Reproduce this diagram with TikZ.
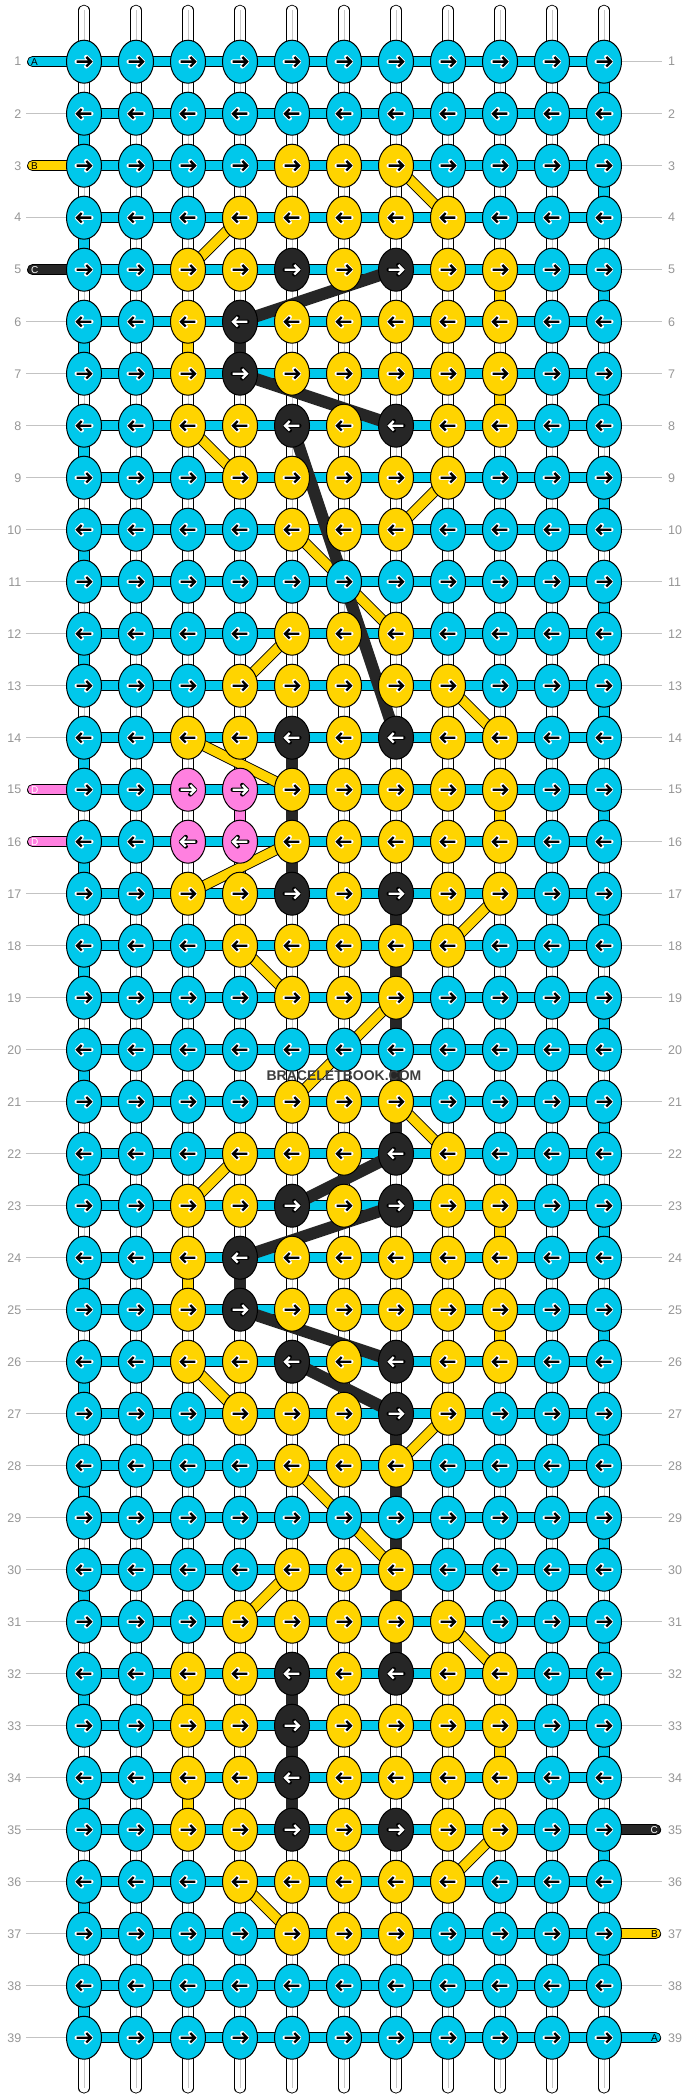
\documentclass[tikz,border=0pt]{standalone}
\usepackage{fontspec}
\setmainfont{Liberation Sans}
\usetikzlibrary{shapes.geometric}
\definecolor{colC}{RGB}{0,200,235}
\definecolor{colY}{RGB}{255,212,0}
\definecolor{colK}{RGB}{38,38,38}
\definecolor{colP}{RGB}{255,128,224}
\definecolor{lblgray}{RGB}{150,150,150}
\definecolor{linegray}{RGB}{195,195,195}
\definecolor{wmgray}{RGB}{62,62,62}
\colorlet{fgC}{black}\colorlet{fgY}{black}\colorlet{fgK}{white}\colorlet{fgP}{white}
\colorlet{bgC}{white}\colorlet{bgY}{white}\colorlet{bgK}{black}\colorlet{bgP}{black}
\pgfdeclarelayer{bg}
\pgfdeclarelayer{mid}
\pgfsetlayers{bg,mid,main}
\begin{document}
\begin{tikzpicture}[x=1pt,y=-1pt,
  knot/.style={ellipse, draw=black, line width=1pt, minimum width=35pt, minimum height=43pt, inner sep=0pt},
  bar/.style={draw=black, line width=0.9pt, double distance=9.3pt},
  hbar/.style={bar, double=colC},
  vbarC/.style={bar, double=colC},
  vbarY/.style={bar, double=colY},
  vbarP/.style={bar, double=colP},
  vbarK/.style={draw=colK, line width=11.1pt},
  diagY/.style={bar, double=colY},
  diagK/.style={draw=colK, line width=12pt},
  warp/.style={bar, double=white, line cap=round},
  warpcore/.style={draw=black!22, line width=0.8pt},
  stubC/.style={bar, double=colC, line cap=round},
  stubY/.style={bar, double=colY, line cap=round},
  stubK/.style={bar, double=colK, line cap=round},
  stubP/.style={bar, double=colP, line cap=round},
  gline/.style={draw=linegray, line width=1pt},
  rowlbl/.style={text=lblgray, font=\fontsize{12.5}{13}\selectfont, inner sep=0pt},
  stublbl/.style={font=\fontsize{10}{11}\selectfont, inner sep=0pt},
  arrhalo/.style={line width=4.4pt, line join=round, line cap=round},
  arrmain/.style={line width=2.4pt, line join=miter},
]
\useasboundingbox (0,0) rectangle (688,2100);
% knots
\foreach \rr/\row in {
 1/{C,C,C,C,C,C,C,C,C,C,C},
 2/{C,C,C,C,C,C,C,C,C,C,C},
 3/{C,C,C,C,Y,Y,Y,C,C,C,C},
 4/{C,C,C,Y,Y,Y,Y,Y,C,C,C},
 5/{C,C,Y,Y,K,Y,K,Y,Y,C,C},
 6/{C,C,Y,K,Y,Y,Y,Y,Y,C,C},
 7/{C,C,Y,K,Y,Y,Y,Y,Y,C,C},
 8/{C,C,Y,Y,K,Y,K,Y,Y,C,C},
 9/{C,C,C,Y,Y,Y,Y,Y,C,C,C},
 10/{C,C,C,C,Y,Y,Y,C,C,C,C},
 11/{C,C,C,C,C,C,C,C,C,C,C},
 12/{C,C,C,C,Y,Y,Y,C,C,C,C},
 13/{C,C,C,Y,Y,Y,Y,Y,C,C,C},
 14/{C,C,Y,Y,K,Y,K,Y,Y,C,C},
 15/{C,C,P,P,Y,Y,Y,Y,Y,C,C},
 16/{C,C,P,P,Y,Y,Y,Y,Y,C,C},
 17/{C,C,Y,Y,K,Y,K,Y,Y,C,C},
 18/{C,C,C,Y,Y,Y,Y,Y,C,C,C},
 19/{C,C,C,C,Y,Y,Y,C,C,C,C},
 20/{C,C,C,C,C,C,C,C,C,C,C},
 21/{C,C,C,C,Y,Y,Y,C,C,C,C},
 22/{C,C,C,Y,Y,Y,K,Y,C,C,C},
 23/{C,C,Y,Y,K,Y,K,Y,Y,C,C},
 24/{C,C,Y,K,Y,Y,Y,Y,Y,C,C},
 25/{C,C,Y,K,Y,Y,Y,Y,Y,C,C},
 26/{C,C,Y,Y,K,Y,K,Y,Y,C,C},
 27/{C,C,C,Y,Y,Y,K,Y,C,C,C},
 28/{C,C,C,C,Y,Y,Y,C,C,C,C},
 29/{C,C,C,C,C,C,C,C,C,C,C},
 30/{C,C,C,C,Y,Y,Y,C,C,C,C},
 31/{C,C,C,Y,Y,Y,Y,Y,C,C,C},
 32/{C,C,Y,Y,K,Y,K,Y,Y,C,C},
 33/{C,C,Y,Y,K,Y,Y,Y,Y,C,C},
 34/{C,C,Y,Y,K,Y,Y,Y,Y,C,C},
 35/{C,C,Y,Y,K,Y,K,Y,Y,C,C},
 36/{C,C,C,Y,Y,Y,Y,Y,C,C,C},
 37/{C,C,C,C,Y,Y,Y,C,C,C,C},
 38/{C,C,C,C,C,C,C,C,C,C,C},
 39/{C,C,C,C,C,C,C,C,C,C,C}} {
  \pgfmathsetmacro\py{61.7+52*(\rr-1)}
  \ifodd\rr\relax \def\dir{1}\else\def\dir{-1}\fi
  \foreach \kk [count=\cc] in \row {
    \pgfmathsetmacro\px{84+52*(\cc-1)}
    \node[knot, fill=col\kk] (n-\rr-\cc) at (\px,\py) {};
    \draw[arrhalo, draw=bg\kk, shift={(n-\rr-\cc.center)}, xscale=\dir]
      (-7.3,0) -- (7,0) (2.3,-4.7) -- (7,0) -- (2.3,4.7);
    \draw[arrmain, draw=fg\kk, shift={(n-\rr-\cc.center)}, xscale=\dir]
      (-7.3,0) -- (7,0) (2.3,-4.7) -- (7,0) -- (2.3,4.7);
  }
}
% row labels
\foreach \rr in {1,...,39} {
  \pgfmathsetmacro\py{61.7+52*(\rr-1)}
  \node[rowlbl, anchor=east] (ll-\rr) at (21.5,\py) {\rr};
  \node[rowlbl, anchor=west] (rl-\rr) at (668,\py) {\rr};
}
% watermark
\node[text=wmgray, font=\bfseries\fontsize{14}{14}\selectfont, inner sep=0pt] (wm) at (344,1076) {BRACELETBOOK.COM};

\begin{pgfonlayer}{bg}
  \fill[white] (0,0) rectangle (688,2100);
  % warps
  \foreach \cc in {1,...,11} {
    \coordinate (wt-\cc) at ({84+52*(\cc-1)},10.3);
    \coordinate (wb-\cc) at ({84+52*(\cc-1)},2088);
    \draw[warp] (wt-\cc) -- (wb-\cc);
    \draw[warpcore] (wt-\cc) -- (wb-\cc);
  }
  % horizontal working threads
  \foreach \rr in {1,...,39} {
    \foreach \cc in {1,...,10} {
      \pgfmathtruncatemacro\nc{\cc+1}
      \draw[hbar] (n-\rr-\cc.center) -- (n-\rr-\nc.center);
    }
  }
  % gray leader lines
  \foreach \rr in {2,4,6,7,8,9,10,11,12,13,14,17,18,19,20,21,22,23,24,25,26,27,28,29,30,31,32,33,34,35,36,37,38,39} {
    \pgfmathsetmacro\py{61.7+52*(\rr-1)}
    \coordinate (gl-\rr) at (26,\py);
    \draw[gline] (gl-\rr) -- (n-\rr-1.center);
  }
  \foreach \rr in {1,2,3,4,5,6,7,8,9,10,11,12,13,14,15,16,17,18,19,20,21,22,23,24,25,26,27,28,29,30,31,32,33,34,36,38} {
    \pgfmathsetmacro\py{61.7+52*(\rr-1)}
    \coordinate (gr-\rr) at (662,\py);
    \draw[gline] (n-\rr-11.center) -- (gr-\rr);
  }
  % stubs
  \foreach \rr/\kk/\lt in {1/C/A, 3/Y/B, 5/K/C, 15/P/D, 16/P/D} {
    \pgfmathsetmacro\py{61.7+52*(\rr-1)}
    \coordinate (sl-\rr) at (32.6,\py);
    \draw[stub\kk] (sl-\rr) -- (n-\rr-1.center);
  }
  \foreach \rr/\kk/\lt in {35/K/C, 37/Y/B, 39/C/A} {
    \pgfmathsetmacro\py{61.7+52*(\rr-1)}
    \coordinate (sr-\rr) at (655.6,\py);
    \draw[stub\kk] (n-\rr-11.center) -- (sr-\rr);
  }
\end{pgfonlayer}

\begin{pgfonlayer}{mid}
  % edge turns
  \foreach \rr in {2,4,...,38} {
    \pgfmathtruncatemacro\nr{\rr+1}
    \draw[vbarC] (n-\rr-1.center) -- (n-\nr-1.center);
  }
  \foreach \rr in {1,3,...,37} {
    \pgfmathtruncatemacro\nr{\rr+1}
    \draw[vbarC] (n-\rr-11.center) -- (n-\nr-11.center);
  }
  % coloured vertical segments
  \foreach \cc/\ra/\cl in {3/6/Y, 3/24/Y, 3/32/Y, 3/34/Y, 4/6/K, 4/15/P, 4/24/K,
      5/14/K, 5/15/K, 5/16/K, 5/32/K, 5/33/K, 5/34/K,
      7/17/K, 7/18/K, 7/19/K, 7/20/K, 7/21/K, 7/27/K, 7/28/K, 7/29/K, 7/30/K, 7/31/K,
      9/5/Y, 9/7/Y, 9/15/Y, 9/23/Y, 9/25/Y, 9/33/Y} {
    \pgfmathtruncatemacro\nr{\ra+1}
    \draw[vbar\cl] (n-\ra-\cc.center) -- (n-\nr-\cc.center);
  }
  % diagonal yellow threads
  \foreach \ra/\ca/\rb/\cb in {3/7/4/8, 4/4/5/3, 8/3/9/4, 9/8/10/7, 10/5/12/7, 12/5/13/4,
      13/8/14/9, 14/3/15/5, 16/5/17/3, 17/9/18/8, 18/4/19/5, 19/7/21/5, 21/7/22/8,
      22/4/23/3, 26/3/27/4, 27/8/28/7, 28/5/30/7, 30/5/31/4, 31/8/32/9, 35/9/36/8, 36/4/37/5} {
    \draw[diagY] (n-\ra-\ca.center) -- (n-\rb-\cb.center);
  }
  % diagonal black threads
  \foreach \ra/\ca/\rb/\cb in {5/7/6/4, 7/4/8/7, 8/5/14/7, 22/7/23/5, 23/7/24/4, 25/4/26/7, 26/5/27/7} {
    \draw[diagK] (n-\ra-\ca.center) -- (n-\rb-\cb.center);
  }
\end{pgfonlayer}

% stub letters
\foreach \rr/\kk/\lt in {1/C/A, 3/Y/B, 5/K/C, 15/P/D, 16/P/D} {
  \pgfmathsetmacro\py{61.7+52*(\rr-1)}
  \node[stublbl, text=fg\kk, anchor=west] (sll-\rr) at (30.8,\py) {\lt};
}
\foreach \rr/\kk/\lt in {35/K/C, 37/Y/B, 39/C/A} {
  \pgfmathsetmacro\py{61.7+52*(\rr-1)}
  \node[stublbl, text=fg\kk, anchor=east] (srl-\rr) at (658,\py) {\lt};
}
\end{tikzpicture}
\end{document}
